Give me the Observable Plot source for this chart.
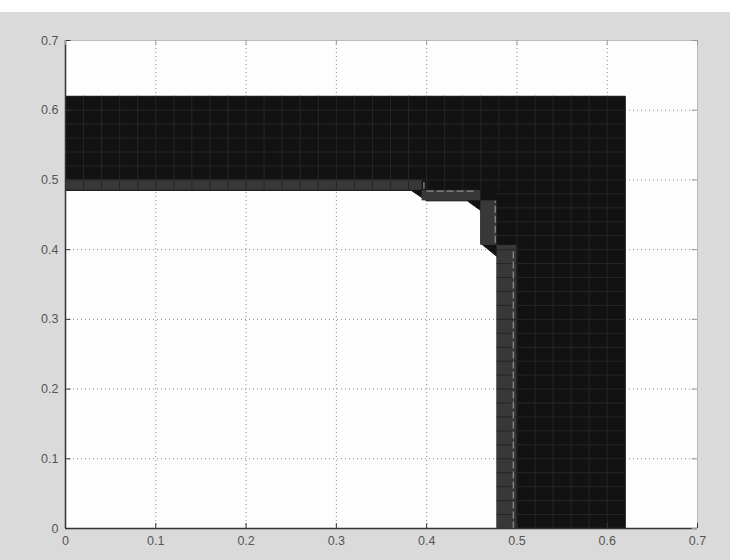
<!DOCTYPE html>
<html><head><meta charset="utf-8">
<script src="https://cdn.jsdelivr.net/npm/d3@7"></script>
<script src="https://cdn.jsdelivr.net/npm/@observablehq/plot@0.6"></script>
<style>
body{margin:0;background:#fff;width:730px;height:560px;overflow:hidden}
#top{height:12px;background:#fff}
#chart svg{display:block}
</style></head>
<body><div id="top"></div><div id="chart"></div>
<script>
// ticks
const xTicks = [0, 0.1, 0.2, 0.3, 0.4, 0.5, 0.6, 0.7];
const yTicks = [0, 0.1, 0.2, 0.3, 0.4, 0.5, 0.6, 0.7];
const tickLabels = ["0", "0.1", "0.2", "0.3", "0.4", "0.5", "0.6", "0.7"];

// outline of the black meshed region (L shape with stepped inner corner)
const shapeX = [0, 0.62, 0.62, 0.478, 0.478, 0.46, 0.46, 0.445, 0.40, 0.383, 0];
const shapeY = [0.62, 0.62, 0, 0, 0.39, 0.409, 0.456, 0.47, 0.47, 0.485, 0.485];

// grey boundary cells
const stripX1 = [0, 0.395, 0.46, 0.478];
const stripX2 = [0.395, 0.46, 0.478, 0.50];
const stripY1 = [0.485, 0.47, 0.406, 0];
const stripY2 = [0.50, 0.485, 0.47, 0.406];

// light edges on boundary cells
const edgeX1 = [0.40, 0.476, 0.496, 0.397];
const edgeX2 = [0.455, 0.476, 0.496, 0.397];
const edgeY1 = [0.484, 0.41, 0, 0.487];
const edgeY2 = [0.484, 0.47, 0.40, 0.50];

// mesh spacing lines
const meshX = [0.02,0.04,0.06,0.08,0.10,0.12,0.14,0.16,0.18,0.20,0.22,0.24,0.26,0.28,0.30,0.32,0.34,0.36,0.38,0.40,0.42,0.44,0.46,0.48,0.50,0.52,0.54,0.56,0.58,0.60];
const meshY = [0.02,0.04,0.06,0.08,0.10,0.12,0.14,0.16,0.18,0.20,0.22,0.24,0.26,0.28,0.30,0.32,0.34,0.36,0.38,0.40,0.42,0.44,0.46,0.48,0.50,0.52,0.54,0.56,0.58,0.60];

const shape = shapeX.map((x, i) => ({x, y: shapeY[i]}));
const strip = stripX1.map((x1, i) => ({x1, x2: stripX2[i], y1: stripY1[i], y2: stripY2[i]}));
const edges = edgeX1.map((x1, i) => ({x1, x2: edgeX2[i], y1: edgeY1[i], y2: edgeY2[i]}));

const meshV = meshX.map(x => ({x, y1: x >= 0.5 ? 0 : 0.485, y2: 0.62}));
const meshH = meshY.map(y => ({y, x1: y >= 0.5 ? 0 : 0.478, x2: 0.62}));

const chart = Plot.plot({
  width: 730,
  height: 548,
  marginLeft: 65,
  marginRight: 33,
  marginTop: 28,
  marginBottom: 32,
  style: {background: "#dadada", fontFamily: "'Liberation Sans', Arial, sans-serif", fontSize: "12.5px", color: "#555"},
  x: {domain: [0, 0.7], ticks: xTicks, tickFormat: (d, i) => tickLabels[i], tickSize: 0, tickPadding: 8, label: null},
  y: {domain: [0, 0.7], ticks: yTicks, tickFormat: (d, i) => tickLabels[i], tickSize: 0, tickPadding: 7, label: null},
  marks: [
    Plot.frame({fill: "#fdfdfd", stroke: null}),
    Plot.gridX(xTicks, {stroke: "#777", strokeOpacity: 0.85, strokeDasharray: "1,3"}),
    Plot.gridY(yTicks, {stroke: "#777", strokeOpacity: 0.85, strokeDasharray: "1,3"}),
    Plot.line(shape, {x: "x", y: "y", fill: "#121212", stroke: "#121212", strokeWidth: 1}),
    Plot.rect(strip, {x1: "x1", x2: "x2", y1: "y1", y2: "y2", fill: "#383838"}),
    Plot.ruleX(meshV, {x: "x", y1: "y1", y2: "y2", stroke: "#262626", strokeWidth: 1}),
    Plot.ruleY(meshH, {y: "y", x1: "x1", x2: "x2", stroke: "#262626", strokeWidth: 1}),
    Plot.link(edges, {x1: "x1", x2: "x2", y1: "y1", y2: "y2", stroke: "#8a8a8a", strokeWidth: 1.3, strokeDasharray: "7,3"}),
    // box
    Plot.ruleX([0.7], {stroke: "#bbb"}),
    Plot.ruleY([0.7], {stroke: "#bbb"}),
    Plot.ruleX([0], {stroke: "#333", strokeWidth: 1.5}),
    Plot.ruleY([0], {stroke: "#333", strokeWidth: 1.5}),
    // inward ticks
    Plot.ruleX(xTicks, {y1: 0, y2: 0.007, stroke: "#333"}),
    Plot.ruleY(yTicks, {x1: 0, x2: 0.006, stroke: "#333"}),
    Plot.ruleX(xTicks, {y1: 0.693, y2: 0.7, stroke: "#999"}),
    Plot.ruleY(yTicks, {x1: 0.694, x2: 0.7, stroke: "#999"})
  ]
});
document.getElementById("chart").append(chart);
</script>
</body></html>
